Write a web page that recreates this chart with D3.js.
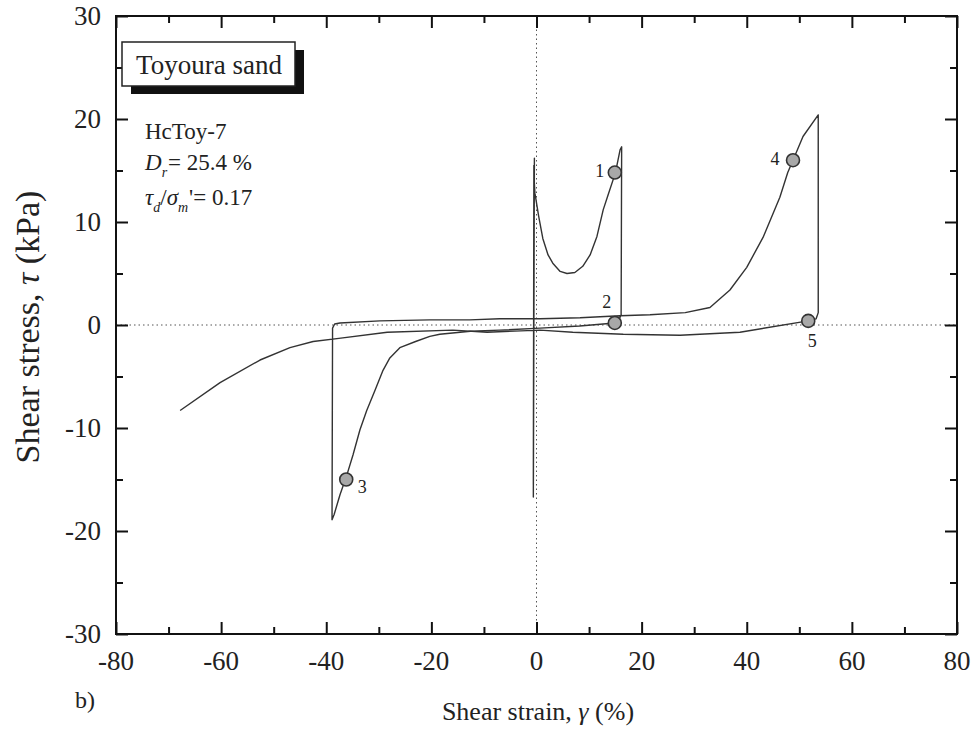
<!DOCTYPE html>
<html><head><meta charset="utf-8">
<script src="https://cdn.jsdelivr.net/npm/d3@7"></script>
<style>body{margin:0;background:#fff}svg{display:block}text{font-family:"Liberation Serif","Times New Roman",serif;fill:#222}</style>
</head><body>
<svg id="c" width="978" height="733"></svg>
<script>
// ---- data (strain %, stress kPa) ----
const xTicks = [-80,-60,-40,-20,0,20,40,60,80];
const yTicks = [-30,-20,-10,0,10,20,30];
const cyclicBranch = [[-0.5,0],[-0.4,16.2],[-0.6,-16.7],[-0.5,15.5],[-0.6,-15.5],[-0.5,14.6]];
const firstLoading = [[-0.3,12.8],[0.4,10.6],[1.2,8.4],[2.2,6.8],[3.1,6.0],[4.5,5.2],[5.8,5.0],[7.3,5.1],[8.8,5.7],[10.2,6.8],[11.5,8.6],[12.7,11.2],[13.6,12.6],[14.9,14.6],[15.3,15.5],[15.9,17.0],[16.2,17.3]];
const firstUnload = [[16.1,1.0],[15.6,0.4],[14.9,0.2]];
const negLoading = [[8.2,-0.1],[0.7,-0.3],[-7,-0.5],[-12.6,-0.6],[-18.4,-0.9],[-20.3,-1.1],[-23,-1.6],[-26,-2.2],[-27.9,-3.2],[-29.2,-4.4],[-30.7,-6.3],[-32.3,-8.3],[-33.6,-10.2],[-34.9,-12.6],[-36.1,-14.6],[-37.4,-16.5],[-38.5,-18.4],[-38.9,-18.9]];
const posLoading = [[-38.8,-0.3],[-38.4,0.1],[-37.4,0.2],[-29.8,0.4],[-20.3,0.5],[-12.7,0.5],[-7,0.6],[0.7,0.6],[8.3,0.7],[15.9,0.9],[21.6,1.0],[28.3,1.2],[33,1.7],[36.8,3.4],[40,5.6],[43.1,8.5],[46.3,12.4],[47.8,14.8],[48.8,16],[50.7,18.3],[53.6,20.4]];
const finalBranch = [[53.6,1.2],[53.2,0.6],[51.7,0.4],[38.7,-0.7],[27.3,-1.0],[16.5,-0.9],[6.9,-0.7],[0.7,-0.5],[-9.4,-0.7],[-15.9,-0.5],[-28.4,-0.7],[-37.6,-1.3],[-42.5,-1.6],[-46.9,-2.2],[-52.6,-3.4],[-60.2,-5.6],[-67.8,-8.3]];
const markerLabels = ["1","2","3","4","5"];
const markerStrain = [14.9,14.9,-36.2,48.8,51.7];
const markerStress = [14.8,0.2,-15.0,16.0,0.4];

const svg = d3.select("#c");
const L=116,R=957,T=16,B=634;
const x = d3.scaleLinear().domain([-80,80]).range([L,R]);
const y = d3.scaleLinear().domain([-30,30]).range([B,T]);

// dotted zero lines
svg.append("line").attr("x1",x(0)).attr("x2",x(0)).attr("y1",T).attr("y2",B)
  .attr("stroke","#555").attr("stroke-width",1).attr("stroke-dasharray","1.5,3");
svg.append("line").attr("x1",L).attr("x2",R).attr("y1",y(0)).attr("y2",y(0))
  .attr("stroke","#555").attr("stroke-width",1).attr("stroke-dasharray","1.5,3");

// axes with inward ticks on all four sides
const fmt = d => String(d);
const xMinor = d3.range(-70,80,20), yMinor = d3.range(-25,30,10);
function tickSet(g, axis){ g.call(axis); g.select(".domain").remove(); g.selectAll("line").attr("stroke","#111").attr("stroke-width",2); }
tickSet(svg.append("g").attr("transform",`translate(0,${B})`), d3.axisBottom(x).tickValues(xTicks).tickSize(-12).tickFormat(""));
tickSet(svg.append("g").attr("transform",`translate(0,${B})`), d3.axisBottom(x).tickValues(xMinor).tickSize(-7).tickFormat(""));
tickSet(svg.append("g").attr("transform",`translate(0,${T})`), d3.axisTop(x).tickValues(xTicks).tickSize(-12).tickFormat(""));
tickSet(svg.append("g").attr("transform",`translate(0,${T})`), d3.axisTop(x).tickValues(xMinor).tickSize(-7).tickFormat(""));
tickSet(svg.append("g").attr("transform",`translate(${L},0)`), d3.axisLeft(y).tickValues(yTicks).tickSize(-12).tickFormat(""));
tickSet(svg.append("g").attr("transform",`translate(${L},0)`), d3.axisLeft(y).tickValues(yMinor).tickSize(-7).tickFormat(""));
tickSet(svg.append("g").attr("transform",`translate(${R},0)`), d3.axisRight(y).tickValues(yTicks).tickSize(-12).tickFormat(""));
tickSet(svg.append("g").attr("transform",`translate(${R},0)`), d3.axisRight(y).tickValues(yMinor).tickSize(-7).tickFormat(""));

// tick labels
svg.append("g").selectAll("text").data(xTicks).join("text")
  .attr("x",d=>x(d)).attr("y",670).attr("text-anchor","middle").attr("font-size",27).text(fmt);
svg.append("g").selectAll("text").data(yTicks).join("text")
  .attr("x",101).attr("y",d=>y(d)+9).attr("text-anchor","end").attr("font-size",27).text(fmt);

// frame
svg.append("rect").attr("x",L).attr("y",T).attr("width",R-L).attr("height",B-T)
  .attr("fill","none").attr("stroke","#111").attr("stroke-width",2);

// curve
const line = d3.line().x(d=>x(d[0])).y(d=>y(d[1]));
const path = [].concat(cyclicBranch, firstLoading, firstUnload, negLoading, posLoading, finalBranch);
svg.append("path").attr("d",line(path)).attr("fill","none").attr("stroke","#333").attr("stroke-width",1.4).attr("stroke-linejoin","round");

// markers
const mk = markerLabels.map((l,i)=>({l, s:markerStrain[i], t:markerStress[i]}));
svg.append("g").selectAll("circle").data(mk).join("circle")
  .attr("cx",d=>x(d.s)).attr("cy",d=>y(d.t)).attr("r",6.5)
  .attr("fill","#a8a8a8").attr("stroke","#333").attr("stroke-width",1.6);
const lblOff = {"1":[-15,4],"2":[-8,-15],"3":[16,13],"4":[-18,5],"5":[4,26]};
svg.append("g").selectAll("text").data(mk).join("text")
  .attr("x",d=>x(d.s)+lblOff[d.l][0]).attr("y",d=>y(d.t)+lblOff[d.l][1])
  .attr("text-anchor","middle").attr("font-size",18).text(d=>d.l);

// legend box with shadow
svg.append("rect").attr("x",131).attr("y",50).attr("width",173).attr("height",44).attr("fill","#111");
svg.append("rect").attr("x",122).attr("y",42).attr("width",173).attr("height",44).attr("fill","#fff").attr("stroke","#222").attr("stroke-width",1.5);
svg.append("text").attr("x",209).attr("y",74).attr("text-anchor","middle").attr("font-size",27).text("Toyoura sand");

// annotation
svg.append("text").attr("x",145).attr("y",139).attr("font-size",23).text("HcToy-7");
const t2 = svg.append("text").attr("x",145).attr("y",170).attr("font-size",23);
t2.append("tspan").attr("font-style","italic").text("D");
t2.append("tspan").attr("font-style","italic").attr("font-size",14).attr("dy",7).text("r");
t2.append("tspan").attr("dy",-7).attr("dx",1).text("= 25.4 %");
const t3 = svg.append("text").attr("x",145).attr("y",205).attr("font-size",23);
t3.append("tspan").attr("font-style","italic").text("τ");
t3.append("tspan").attr("font-style","italic").attr("font-size",14).attr("dy",7).text("d");
t3.append("tspan").attr("dy",-7).text("/");
t3.append("tspan").attr("font-style","italic").text("σ");
t3.append("tspan").attr("font-style","italic").attr("font-size",14).attr("dy",7).text("m");
t3.append("tspan").attr("dy",-7).attr("dx",1).text("'= 0.17");

// axis titles
const xt = svg.append("text").attr("x",538).attr("y",720).attr("text-anchor","middle").attr("font-size",26);
xt.append("tspan").text("Shear strain, ");
xt.append("tspan").attr("font-style","italic").text("γ");
xt.append("tspan").text(" (%)");
const yt = svg.append("text").attr("transform","translate(39,327) rotate(-90)").attr("text-anchor","middle").attr("font-size",34);
yt.append("tspan").text("Shear stress, ");
yt.append("tspan").attr("font-style","italic").text("τ");
yt.append("tspan").text(" (kPa)");
svg.append("text").attr("x",75).attr("y",708).attr("font-size",24).text("b)");
</script>
</body></html>
